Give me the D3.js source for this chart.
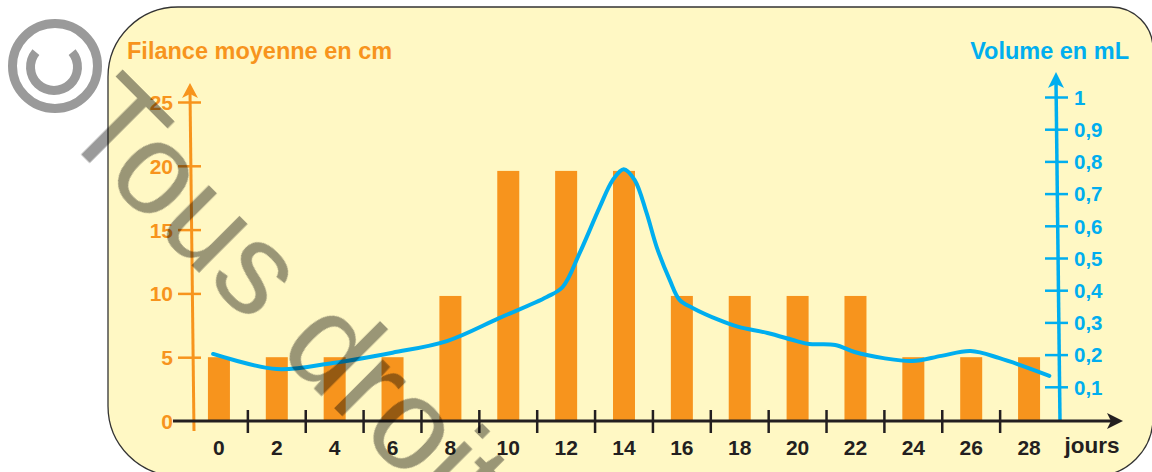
<!DOCTYPE html>
<html><head><meta charset="utf-8">
<script src="https://cdn.jsdelivr.net/npm/d3@7"></script>
<style>
body{margin:0;background:#fff}
svg{display:block}
text{font-family:"Liberation Sans",Arial,Helvetica,sans-serif}
</style>
</head><body>
<svg id="chart" width="1152" height="472"></svg>
<script>
// ---- data ----
const dayLabels = ["0","2","4","6","8","10","12","14","16","18","20","22","24","26","28"];
const filance = [5,5,5,5,9.8,19.6,19.6,19.6,9.8,9.8,9.8,9.8,5,5,5];
const filanceTicks = [0,5,10,15,20,25];
const volumeTicks = [0.1,0.2,0.3,0.4,0.5,0.6,0.7,0.8,0.9,1];
const volumeDays = [-0.2,2,3.94,6,7.88,9.7,11.33,11.88,12.47,13.16,13.61,13.99,14.37,14.78,15.13,15.58,15.92,16.37,17.3,17.96,18.96,19.97,20.4,21.3,21.97,22.97,23.97,24.97,25.98,26.98,28.7];
const volume =     [0.202,0.155,0.174,0.206,0.242,0.314,0.379,0.41,0.516,0.658,0.742,0.776,0.742,0.64,0.534,0.432,0.37,0.345,0.307,0.286,0.267,0.242,0.233,0.23,0.208,0.189,0.18,0.196,0.211,0.189,0.134];

const ORANGE = "#F7941D", BLUE = "#00AEEF", INK = "#231F20";
const svg = d3.select("#chart");

// ---- background panel (rounded shape) ----
(function(){
  const x0=108,y0=7,x1=1153,y1=476, tl=70,tr=42,br=58,bl=70;
  const p = d3.path();
  p.moveTo(x0+tl,y0); p.lineTo(x1-tr,y0);
  p.arcTo(x1,y0,x1,y0+tr,tr); p.lineTo(x1,y1-br);
  p.arcTo(x1,y1,x1-br,y1,br); p.lineTo(x0+bl,y1);
  p.arcTo(x0,y1,x0,y1-bl,bl); p.lineTo(x0,y0+tl);
  p.arcTo(x0,y0,x0+tl,y0,tl); p.closePath();
  svg.append("path").attr("d",p.toString()).attr("fill","#FFF8C4").attr("stroke","#333").attr("stroke-width",1.3);
})();

// ---- scales ----
const x = d3.scaleBand().domain(dayLabels).range([190,1058]).padding(0);
const bw = x.bandwidth();
const xDay = d3.scaleLinear().domain([0,28]).range([x("0")+bw/2, x("28")+bw/2]);
const yL = d3.scaleLinear().domain([0,25]).range([421,102]);
const yR = d3.scaleLinear().domain([0,1]).range([419,97]);

// ---- bars ----
const barW = 22;
svg.append("g").selectAll("rect").data(filance).join("rect")
  .attr("x",(d,i)=>x(dayLabels[i])+bw/2-barW/2)
  .attr("y",d=>yL(d))
  .attr("width",barW)
  .attr("height",d=>yL(0)-yL(d))
  .attr("fill",ORANGE);

// ---- left axis ----
svg.append("line").attr("x1",190).attr("y1",92).attr("x2",194).attr("y2",431)
  .attr("stroke",ORANGE).attr("stroke-width",3);
svg.append("path").attr("d","M190,83 L198,98 L190,94 L182,98 Z").attr("fill",ORANGE);
const gL = svg.append("g").attr("transform","translate(190,0)")
  .call(d3.axisLeft(yL).tickValues(filanceTicks).tickSize(12));
gL.select(".domain").remove();
gL.selectAll(".tick line").attr("x1",-12).attr("x2",11).attr("stroke",ORANGE).attr("stroke-width",2.5);
gL.selectAll(".tick text").attr("x",-17).attr("dy","0.36em").attr("fill",ORANGE)
  .style("font-size","21px").style("font-weight","bold").style("font-family","'Liberation Sans',Arial,sans-serif");
gL.selectAll(".tick").filter(d=>d===0).select("line").remove();

// ---- right axis ----
svg.append("line").attr("x1",1056).attr("y1",82).attr("x2",1060).attr("y2",421)
  .attr("stroke",BLUE).attr("stroke-width",3.5);
svg.append("path").attr("d","M1056,72 L1064,88 L1056,84 L1048,88 Z").attr("fill",BLUE);
const gR = svg.append("g").attr("transform","translate(1057,0)")
  .call(d3.axisRight(yR).tickValues(volumeTicks).tickSize(12)
    .tickFormat(d=>String(d).replace(".",",")));
gR.select(".domain").remove();
gR.selectAll(".tick line").attr("x1",-12).attr("x2",11).attr("stroke",BLUE).attr("stroke-width",2.5);
gR.selectAll(".tick text").attr("x",17).attr("dy","0.36em").attr("fill",BLUE)
  .style("font-size","20.5px").style("font-weight","bold").style("font-family","'Liberation Sans',Arial,sans-serif");

// ---- x axis ----
svg.append("line").attr("x1",173).attr("y1",421).attr("x2",1114).attr("y2",421)
  .attr("stroke",INK).attr("stroke-width",3);
svg.append("path").attr("d","M1123,421 L1107,413 L1111,421 L1107,429 Z").attr("fill",INK);
svg.append("g").selectAll("line").data(dayLabels.slice(1)).join("line")
  .attr("x1",d=>x(d)).attr("x2",d=>x(d)).attr("y1",410).attr("y2",433)
  .attr("stroke",INK).attr("stroke-width",2.5);
const gX = svg.append("g").attr("transform","translate(0,455)")
  .call(d3.axisBottom(x).tickSize(0));
gX.select(".domain").remove();
gX.selectAll(".tick text").attr("y",0).attr("dy",0).attr("fill",INK)
  .style("font-size","21px").style("font-weight","bold").style("font-family","'Liberation Sans',Arial,sans-serif");
svg.append("text").attr("x",1092).attr("y",453).attr("text-anchor","middle")
  .attr("fill",INK).style("font-size","22.5px").style("font-weight","bold").text("jours");

// ---- axis titles ----
svg.append("text").attr("x",127).attr("y",59).attr("fill",ORANGE)
  .style("font-size","23.5px").style("font-weight","bold").text("Filance moyenne en cm");
svg.append("text").attr("x",1129).attr("y",59).attr("text-anchor","end").attr("fill",BLUE)
  .style("font-size","23.5px").style("font-weight","bold").text("Volume en mL");

// ---- volume line ----
const line = d3.line().x((d,i)=>xDay(volumeDays[i])).y(d=>yR(d)).curve(d3.curveCatmullRom.alpha(0.5));
svg.append("path").datum(volume).attr("d",line).attr("fill","none")
  .attr("stroke",BLUE).attr("stroke-width",4).attr("stroke-linejoin","round").attr("stroke-linecap","round");

// ---- watermark ----
const wm = svg.append("g").style("mix-blend-mode","multiply");
wm.append("circle").attr("cx",55).attr("cy",66).attr("r",42.5).attr("fill","none")
  .attr("stroke","#9a9a9a").attr("stroke-width",9);
const arc = d3.arc().innerRadius(19).outerRadius(28).startAngle(Math.PI*0.22).endAngle(Math.PI*0.80);
wm.append("path").attr("transform","translate(54,67) rotate(180)")
  .attr("d",d3.arc().innerRadius(19).outerRadius(28).startAngle(-Math.PI*0.72).endAngle(Math.PI*0.72)())
  .attr("fill","#9a9a9a");
wm.append("text").attr("transform","translate(57,131) rotate(45)")
  .attr("fill","#9a9a9a").style("font-size","130px").text("Tous droits réservés");
</script>
</body></html>
